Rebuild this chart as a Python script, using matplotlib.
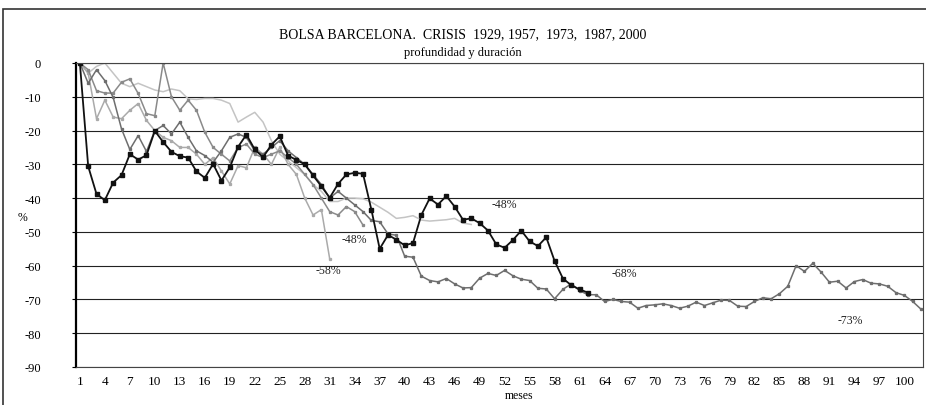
import matplotlib
matplotlib.use('Agg')
import matplotlib.pyplot as plt
from matplotlib.patches import Rectangle
import numpy as np

plt.rcParams['font.family'] = ['Liberation Serif', 'DejaVu Serif']

# month index 1..102, tick labels every 3 months
tick_months = list(range(1, 101, 3))

# crisis series (% from peak)
s_black = [0, -30.6, -38.8, -40.6, -35.4, -33.2, -27, -28.6, -27.3, -20.1,
           -23.4, -26.3, -27.6, -28, -32.1, -34, -29.9, -34.8, -30.9, -24.8,
           -21.2, -25.6, -27.9, -24.2, -21.7, -27.4, -28.7, -30, -33.3, -36.5,
           -39.9, -35.8, -33, -32.5, -32.8, -43.4, -55, -50.9, -52.3, -54,
           -53.3, -45, -40.1, -41.9, -39.4, -42.5, -46.4, -46, -47.4, -49.6,
           -53.7, -54.7, -52.4, -49.6, -52.8, -54.2, -51.6, -58.6, -63.8, -65.8,
           -67, -68]

s_dark = [0, -6, -2, -5.2, -10.2, -19.5, -25.6, -21.5, -26.2, -20,
          -18.5, -21, -17.5, -22, -26, -27.4, -29.4, -26, -22, -21,
          -22, -26, -27, -25, -23, -26, -28, -30, -33, -36,
          -40, -38, -40, -42, -44, -46.6, -47, -50.6, -51, -57.2,
          -57.5, -63.1, -64.4, -64.8, -63.8, -65.4, -66.6, -66.5, -63.7, -62.3,
          -62.9, -61.4, -63, -64, -64.4, -66.7, -66.9, -69.8, -67, -65.4,
          -67.4, -68.6, -68.6, -70.6, -70, -70.6, -70.8, -72.6, -71.8, -71.6,
          -71.3, -71.8, -72.6, -72, -70.8, -71.8, -71, -70.2, -70.3, -72,
          -72.1, -70.6, -69.5, -69.8, -68.3, -66.1, -60, -61.7, -59.3, -61.9,
          -64.9, -64.6, -66.6, -64.7, -64.1, -65.2, -65.4, -66.1, -68, -68.8,
          -70.6, -72.9]

s_mid = [0, -2, -8.2, -8.9, -8.9, -5.7, -4.7, -9, -15, -15.6,
         0, -10, -14, -11, -14, -20.5, -25, -27, -29, -25,
         -24, -27, -28, -27, -26, -28, -30, -33, -36, -40,
         -44, -45, -42.5, -44, -48]

s_light = [0, -3, -16.5, -11, -16, -16.5, -14, -12, -17, -20,
           -22, -23, -25, -25, -27, -30, -28, -32, -35.8, -30.4,
           -31, -25, -27, -30, -25, -30, -33, -40, -45, -43.4,
           -58]

s_pale = [0, -3, -1, 0, -3, -6, -7, -6, -7, -8,
          -8.5, -7.7, -8.2, -10.6, -10.8, -10.5, -10.5, -11, -12, -17.5,
          -16, -14.6, -17.5, -23, -27, -29, -31, -33, -36, -38,
          -41, -41, -40, -40, -40.2, -41.2, -42.7, -44.2, -46, -45.7,
          -45.2, -46.5, -46.8, -46.6, -46.4, -46, -47.4, -47.8]

end_labels = ["-58%", "-48%", "-48%", "-68%", "-73%"]
label_pos = [(30.8, -61.3), (33.9, -52), (52, -41.8), (66.4, -62.2), (93.5, -76)]

W, H = 926, 406
fig = plt.figure(figsize=(W / 100, H / 100), dpi=100)
ax = fig.add_axes([75.7 / W, 1 - 368 / H, (922.7 - 75.7) / W, (368 - 64) / H])

def months(s):
    return np.arange(1, len(s) + 1)

ax.plot(months(s_pale), s_pale, color='#c4c4c4', lw=1.1)
ax.plot(months(s_light), s_light, color='#aaaaaa', lw=1.1,
        marker='s', ms=1.4, mec='#aaaaaa')
ax.plot(months(s_mid), s_mid, color='#8a8a8a', lw=1.1,
        marker='s', ms=1.4, mec='#8a8a8a')
ax.plot(months(s_dark), s_dark, color='#6e6e6e', lw=1.1,
        marker='s', ms=1.4, mec='#6e6e6e')
ax.plot(months(s_black), s_black, color='#111111', lw=1.3,
        marker='s', ms=3.1, mec='#111111')

for txt, (x, y) in zip(end_labels, label_pos):
    ax.text(x, y, txt, fontsize=8.5, ha='center', va='center', color='#222222')

ax.set_xlim(0.5, 102.2)
ax.set_ylim(-90, 0)
ax.set_yticks(np.arange(-90, 1, 10))
ax.set_yticklabels([str(v) for v in range(-90, 1, 10)], fontsize=9)
ax.set_xticks(tick_months)
ax.set_xticklabels([str(m) for m in tick_months], fontsize=9.5)
ax.tick_params(axis='y', length=3, width=0.8, pad=22)
ax.tick_params(axis='x', length=0, pad=6)
ax.yaxis.grid(True, color='#222222', lw=0.8)
ax.set_axisbelow(True)
for side in ['top', 'right', 'bottom']:
    ax.spines[side].set_color('#444444')
    ax.spines[side].set_linewidth(0.8)
ax.spines['left'].set_linewidth(1.6)

fig.text(519 / W, 1 - 396 / H, 'meses', fontsize=8.5, ha='center', va='center')
fig.text(22 / W, 1 - 218 / H, '%', fontsize=8.5, ha='center', va='center')

fig.text(0.5, 1 - 35 / H, 'BOLSA BARCELONA.  CRISIS  1929, 1957,  1973,  1987, 2000',
         fontsize=10, ha='center', va='center')
fig.text(0.5, 1 - 53 / H, 'profundidad y duración', fontsize=9, ha='center', va='center')

# outer chart frame (cut off at right and bottom)
fig.patches.append(Rectangle((3 / W, -0.1), 1.2, 1 - 10 / H + 0.1,
                             transform=fig.transFigure, fill=False,
                             ec='#333333', lw=1.2))

fig.savefig('out.png', dpi=100)
